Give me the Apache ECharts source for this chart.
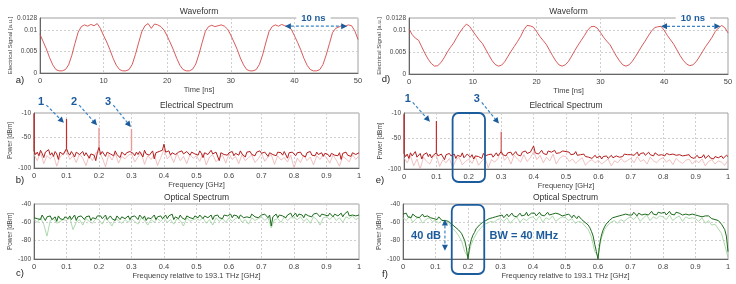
<!DOCTYPE html>
<html>
<head>
<meta charset="utf-8">
<script src="https://cdn.jsdelivr.net/npm/echarts@6/dist/echarts.min.js"></script>
<style>
  html, body { margin: 0; padding: 0; background: #fff; }
  #main { width: 736px; height: 284px; }
</style>
</head>
<body>
<div id="main"></div>
<script>
// time step 0.5 ns, 0..50 ns
var waveA = [
  0.0090, 0.0073, 0.0056, 0.0036, 0.0019, 0.0008, 0.0005, 0.0005, 0.0008, 0.0019,
  0.0041, 0.0069, 0.0095, 0.0108, 0.0112, 0.0109, 0.0113, 0.0110, 0.0115, 0.0104,
  0.0087, 0.0072, 0.0054, 0.0034, 0.0018, 0.0008, 0.0005, 0.0005, 0.0008, 0.0020,
  0.0043, 0.0070, 0.0096, 0.0110, 0.0115, 0.0104, 0.0114, 0.0112, 0.0108, 0.0100,
  0.0086, 0.0070, 0.0053, 0.0034, 0.0018, 0.0008, 0.0005, 0.0005, 0.0009, 0.0021,
  0.0044, 0.0071, 0.0097, 0.0108, 0.0111, 0.0108, 0.0110, 0.0112, 0.0109, 0.0102,
  0.0088, 0.0072, 0.0055, 0.0035, 0.0019, 0.0008, 0.0005, 0.0005, 0.0008, 0.0020,
  0.0042, 0.0070, 0.0096, 0.0108, 0.0112, 0.0109, 0.0113, 0.0110, 0.0108, 0.0102,
  0.0087, 0.0071, 0.0054, 0.0034, 0.0018, 0.0008, 0.0005, 0.0005, 0.0008, 0.0020,
  0.0042, 0.0068, 0.0094, 0.0104, 0.0107, 0.0111, 0.0109, 0.0112, 0.0110, 0.0098,
  0.0078
];
var waveD = [
  0.0103, 0.0090, 0.0082, 0.0077, 0.0062, 0.0047, 0.0034, 0.0024, 0.0018, 0.0019,
  0.0026, 0.0037, 0.0050, 0.0061, 0.0071, 0.0084, 0.0096, 0.0106, 0.0114, 0.0109,
  0.0098, 0.0088, 0.0078, 0.0070, 0.0057, 0.0044, 0.0031, 0.0022, 0.0018, 0.0020,
  0.0028, 0.0040, 0.0052, 0.0063, 0.0074, 0.0086, 0.0101, 0.0111, 0.0110, 0.0107,
  0.0097, 0.0086, 0.0077, 0.0068, 0.0055, 0.0042, 0.0030, 0.0021, 0.0018, 0.0021,
  0.0029, 0.0041, 0.0054, 0.0066, 0.0077, 0.0088, 0.0100, 0.0108, 0.0109, 0.0105,
  0.0095, 0.0084, 0.0075, 0.0067, 0.0054, 0.0041, 0.0030, 0.0021, 0.0018, 0.0021,
  0.0029, 0.0040, 0.0052, 0.0064, 0.0075, 0.0087, 0.0098, 0.0106, 0.0108, 0.0109,
  0.0100, 0.0088, 0.0078, 0.0068, 0.0055, 0.0042, 0.0031, 0.0023, 0.0019, 0.0021,
  0.0028, 0.0039, 0.0051, 0.0063, 0.0073, 0.0084, 0.0097, 0.0105, 0.0111, 0.0106,
  0.0094
];

// frequency step 0.005 GHz (dark traces), 0.01 GHz (light traces)
var elecB = [
  -72,-78,-74,-80,-71,-76,-83,-74,-77,-70,-79,-75,-81,-73,-77,-86,-74,-72,-78,-75,
  -68,-75,-79,-73,-77,-82,-74,-71,-78,-76,-73,-80,-75,-72,-84,-77,-74,-79,-88,-75,
  -66,-78,-73,-76,-81,-74,-71,-77,-75,-80,-72,-78,-76,-83,-74,-71,-79,-75,-77,-73,
  -72,-76,-80,-74,-78,-73,-75,-82,-71,-77,-74,-79,-76,-72,-85,-75,-78,-73,-76,-71,
  -61,-74,-77,-72,-79,-75,-73,-78,-81,-74,-76,-72,-77,-80,-73,-75,-79,-74,-71,-77,
  -74,-79,-72,-76,-83,-75,-73,-78,-75,-71,-77,-80,-74,-76,-88,-75,-73,-78,-76,-79,
  -75,-77,-73,-80,-76,-74,-79,-72,-77,-75,-82,-74,-76,-73,-78,-75,-80,-74,-77,-72,
  -76,-79,-74,-77,-81,-75,-73,-78,-76,-80,-74,-77,-75,-79,-73,-76,-84,-75,-78,-74,
  -77,-80,-75,-78,-74,-79,-76,-82,-75,-77,-73,-79,-76,-80,-74,-78,-77,-75,-81,-76,
  -75,-78,-82,-76,-74,-79,-77,-80,-75,-86,-76,-78,-74,-79,-76,-81,-75,-77,-78,-76,
  -75
];
var elecBLight = [
  -78,-88,-74,-93,-80,-85,-79,-97,-82,-76,
  -72,-86,-80,-91,-77,-84,-96,-79,-88,-75,
  -74,-83,-98,-78,-87,-76,-92,-81,-85,-79,
  -77,-90,-82,-75,-94,-80,-86,-78,-96,-83,
  -70,-85,-79,-91,-76,-88,-81,-93,-78,-84,
  -80,-89,-76,-95,-82,-78,-90,-84,-79,-92,
  -77,-86,-81,-93,-78,-88,-83,-79,-91,-85,
  -76,-89,-82,-78,-94,-80,-87,-83,-90,-79,
  -100,-84,-91,-79,-88,-82,-95,-80,-86,-78,
  -83,-92,-79,-87,-97,-81,-85,-90,-78,-86,
  -80
];
var peakFreqB = [0, 0.1, 0.2, 0.3];
var peakDbB = [-11, -20, -34, -36];

var elecE = [
  -75,-80,-76,-83,-74,-79,-77,-72,-81,-78,-75,-84,-77,-79,-74,-80,-76,-82,-78,-75,
  -74,-79,-82,-76,-78,-85,-77,-80,-75,-79,-81,-76,-83,-78,-77,-80,-74,-82,-79,-76,
  -78,-81,-77,-84,-79,-76,-80,-78,-83,-75,-79,-82,-77,-80,-76,-81,-78,-74,-79,-77,
  -72,-77,-75,-79,-74,-76,-73,-78,-75,-72,-77,-74,-79,-73,-76,-71,-75,-78,-73,-76,
  -63,-74,-71,-76,-73,-70,-75,-72,-77,-71,-74,-73,-76,-70,-75,-72,-74,-77,-71,-73,
  -72,-75,-73,-77,-74,-76,-72,-78,-75,-77,-79,-76,-80,-78,-81,-79,-83,-80,-78,-82,
  -81,-79,-84,-80,-82,-79,-83,-81,-78,-82,-80,-79,-77,-81,-78,-80,-76,-79,-77,-75,
  -77,-74,-78,-76,-73,-79,-75,-77,-74,-78,-76,-73,-77,-75,-79,-74,-76,-78,-75,-77,
  -76,-79,-75,-78,-77,-80,-76,-79,-78,-81,-77,-80,-79,-82,-78,-80,-77,-81,-79,-83,
  -80,-78,-82,-79,-81,-77,-83,-80,-78,-82,-79,-84,-80,-78,-82,-81,-79,-83,-80,-78,
  -80
];
var elecELight = [
  -82,-90,-79,-95,-84,-100,-81,-88,-92,-80,
  -78,-96,-85,-90,-83,-97,-86,-81,-93,-88,
  -84,-91,-80,-94,-87,-82,-98,-85,-89,-83,
  -70,-86,-80,-92,-78,-84,-89,-77,-88,-82,
  -72,-85,-78,-90,-81,-87,-76,-92,-83,-79,
  -80,-88,-84,-91,-86,-82,-94,-88,-85,-90,
  -86,-92,-88,-84,-95,-87,-90,-83,-89,-86,
  -83,-90,-80,-88,-85,-92,-81,-87,-90,-84,
  -82,-89,-85,-93,-83,-88,-91,-86,-84,-92,
  -86,-90,-84,-95,-88,-85,-92,-87,-89,-94,
  -86
];
var peakFreqE = [0, 0.1, 0.3];
var peakDbE = [-12, -23, -40];

var optC = [
  -55,-53,-56,-54,-57,-52,-55,-58,-54,-56,-53,-57,-55,-54,-59,-53,-56,-55,-57,-54,
  -54,-56,-53,-57,-55,-52,-58,-54,-56,-53,-55,-57,-54,-56,-53,-58,-55,-54,-56,-53,
  -55,-53,-56,-54,-52,-57,-55,-53,-56,-54,-58,-53,-55,-57,-54,-52,-56,-55,-53,-57,
  -54,-56,-53,-55,-57,-52,-54,-56,-53,-58,-55,-53,-56,-54,-52,-57,-54,-55,-53,-56,
  -54,-52,-56,-53,-55,-51,-57,-54,-53,-56,-52,-55,-54,-57,-53,-52,-55,-54,-56,-53,
  -53,-55,-52,-54,-56,-53,-51,-55,-54,-52,-57,-53,-54,-52,-55,-53,-56,-52,-54,-53,
  -53,-51,-55,-52,-54,-53,-56,-52,-51,-55,-53,-54,-52,-55,-51,-53,-54,-52,-55,-53,
  -52,-54,-51,-53,-55,-52,-64,-54,-53,-51,-55,-52,-54,-53,-51,-55,-52,-53,-50,-54,
  -52,-50,-54,-51,-53,-52,-55,-51,-50,-53,-52,-54,-51,-53,-50,-52,-54,-51,-53,-52,
  -51,-53,-50,-52,-54,-51,-49,-53,-52,-50,-54,-51,-52,-48,-53,-51,-52,-50,-53,-51,
  -52
];
var optCLight = [
  -57,-60,-55,-62,-75,-58,-56,-61,-59,-57,
  -58,-55,-68,-60,-57,-63,-56,-59,-61,-56,
  -57,-62,-55,-59,-64,-56,-58,-61,-57,-60,
  -56,-59,-62,-55,-58,-63,-57,-60,-56,-59,
  -55,-60,-57,-62,-56,-58,-64,-55,-59,-57,
  -56,-58,-55,-61,-57,-63,-55,-59,-56,-60,
  -55,-59,-56,-54,-60,-57,-62,-55,-58,-56,
  -54,-58,-55,-66,-57,-56,-60,-54,-58,-55,
  -55,-57,-54,-59,-56,-61,-54,-57,-63,-55,
  -54,-57,-53,-58,-55,-60,-54,-56,-53,-57,
  -55
];

var optF = [
  -51,-53,-50,-54,-52,-55,-51,-53,-54,-52,-55,-53,-51,-54,-56,-53,-52,-55,-54,-56,
  -55,-57,-54,-56,-58,-56,-58,-60,-59,-61,-62,-63,-65,-66,-68,-70,-72,-76,-80,-88,
  -100,-86,-79,-74,-71,-67,-66,-63,-62,-60,-59,-58,-57,-56,-57,-55,-56,-54,-55,-53,
  -54,-52,-55,-53,-51,-54,-52,-50,-53,-51,-54,-52,-50,-53,-51,-52,-49,-53,-51,-50,
  -52,-50,-53,-51,-49,-52,-50,-53,-51,-49,-52,-50,-51,-53,-50,-52,-51,-49,-53,-51,
  -52,-54,-51,-53,-55,-52,-54,-56,-53,-55,-57,-58,-60,-61,-63,-66,-70,-75,-84,-92,
  -100,-84,-75,-69,-65,-62,-60,-58,-57,-55,-56,-54,-55,-53,-54,-52,-53,-51,-53,-52,
  -50,-52,-49,-51,-53,-50,-48,-52,-50,-51,-49,-52,-50,-48,-51,-50,-52,-49,-51,-50,
  -51,-49,-52,-50,-48,-51,-50,-52,-49,-51,-50,-48,-52,-50,-51,-49,-52,-50,-51,-53,
  -52,-50,-53,-51,-54,-52,-53,-55,-53,-54,-56,-55,-57,-56,-58,-60,-62,-64,-68,-75,
  -92
];
var optFLight = [
  -55,-58,-53,-60,-56,-54,-61,-57,-55,-59,
  -58,-61,-57,-63,-60,-66,-69,-74,-80,-92,
  -98,-84,-76,-70,-66,-62,-61,-59,-60,-57,
  -56,-59,-55,-61,-57,-54,-60,-56,-58,-55,
  -54,-58,-53,-60,-55,-57,-53,-59,-56,-54,
  -55,-58,-56,-61,-59,-60,-64,-68,-76,-92,
  -97,-78,-68,-63,-60,-58,-61,-57,-59,-56,
  -54,-57,-53,-59,-55,-52,-58,-54,-56,-53,
  -54,-57,-52,-58,-55,-53,-59,-54,-56,-55,
  -56,-59,-55,-61,-58,-63,-62,-67,-72,-85,
  -98
];

var blue = '#1c5c9c';
var blueLine = '#3a85c8';
var font = '"Liberation Sans", Arial, sans-serif';

function pairs(vals, step) {
  return vals.map(function(v, i) { return [+(i * step).toFixed(4), v]; });
}
// vertical spikes from the noise floor; strong (> -30 dBm) or weak ones
function peakLines(freqs, dbs, floor, strong) {
  var out = [];
  freqs.forEach(function(f, i) {
    if ((dbs[i] > -30) !== strong) return;
    var base = floor[Math.round(f / 0.005)];
    out.push([f, base], [f, dbs[i]], '-');
  });
  return out;
}

var chart = echarts.init(document.getElementById('main'), null, { renderer: 'canvas' });

var grids = [
  { left: 40, right: 378, top: 18, height: 55 },   // a
  { left: 409, right: 8, top: 18, height: 56 },    // d
  { left: 34, right: 377, top: 113, height: 55 },  // b
  { left: 404, right: 8, top: 113, height: 56 },   // e
  { left: 34, right: 377, top: 204, height: 55 },  // c
  { left: 403, right: 8, top: 204, height: 55 }    // f
];
grids.forEach(function(g) { g.show = true; g.borderColor = '#a0a0a0'; g.borderWidth = 1; });

var gridLine = { show: true, lineStyle: { color: '#cfcfcf', type: [2, 2], width: 1 } };

function xAx(i, max, interval, name, gap) {
  return {
    type: 'value', gridIndex: i, min: 0, max: max, interval: interval,
    name: name, nameLocation: 'middle', nameGap: gap,
    nameTextStyle: { fontSize: 7.5, color: '#444', fontFamily: 'Liberation Sans' },
    axisLine: { onZero: false, lineStyle: { color: '#666' } },
    axisTick: { show: false },
    axisLabel: { fontSize: 7.5, color: '#444', margin: 4, fontFamily: 'Liberation Sans' },
    splitLine: gridLine
  };
}
function yAx(i, min, max, interval, name, gap, fs) {
  return {
    type: 'value', gridIndex: i, min: min, max: max, interval: interval,
    name: name, nameLocation: 'middle', nameGap: gap, nameRotate: 90,
    nameTextStyle: { fontSize: fs, color: '#444', fontFamily: 'Liberation Sans' },
    axisLine: { onZero: false, lineStyle: { color: '#666' } },
    axisTick: { show: false },
    axisLabel: { fontSize: 6.5, color: '#444', margin: 3, fontFamily: 'Liberation Sans' },
    splitLine: gridLine
  };
}

function line(i, data, color, width, z) {
  return {
    type: 'line', xAxisIndex: i, yAxisIndex: i, data: data,
    showSymbol: false, symbol: 'none', z: z || 2, silent: true,
    lineStyle: { color: color, width: width }
  };
}

var redDark = '#b31c1c', redLight = '#eeb0b0', greenDark = '#1c6a1c', greenLight = '#9ccf9c';

chart.setOption({
  animation: false,
  grid: grids,
  xAxis: [
    xAx(0, 50, 10, 'Time [ns]', 11),
    xAx(1, 50, 10, 'Time [ns]', 10),
    xAx(2, 1, 0.1, 'Frequency [GHz]', 11),
    xAx(3, 1, 0.1, 'Frequency [GHz]', 11),
    xAx(4, 1, 0.1, 'Frequency relative to 193.1 THz [GHz]', 9),
    xAx(5, 1, 0.1, 'Frequency relative to 193.1 THz [GHz]', 10)
  ],
  yAxis: [
    yAx(0, 0, 0.0128, 0.005, 'Electrical Signal [a.u.]', 27, 6),
    yAx(1, 0, 0.0128, 0.005, 'Electrical Signal [a.u.]', 26, 6),
    yAx(2, -100, -10, 50, 'Power [dBm]', 18, 6.5),
    yAx(3, -100, -10, 50, 'Power [dBm]', 18, 6.5),
    yAx(4, -100, -40, 20, 'Power [dBm]', 20, 6.5),
    yAx(5, -100, -40, 20, 'Power [dBm]', 19, 6.5)
  ],
  series: [
    line(0, pairs(waveA, 0.5), '#d44848', 0.9),
    line(1, pairs(waveD, 0.5), '#d44848', 0.9),
    line(2, pairs(elecBLight, 0.01), redLight, 0.8),
    line(2, pairs(elecB, 0.005), redDark, 1.0, 3),
    line(2, peakLines(peakFreqB, peakDbB, elecB, true), '#c92a2a', 1.2, 4),
    line(2, peakLines(peakFreqB, peakDbB, elecB, false), '#e79a9a', 1.4, 4),
    line(3, pairs(elecELight, 0.01), redLight, 0.8),
    line(3, pairs(elecE, 0.005), redDark, 1.0, 3),
    line(3, peakLines(peakFreqE, peakDbE, elecE, true), '#c92a2a', 1.2, 4),
    line(3, peakLines(peakFreqE, peakDbE, elecE, false), '#d25555', 1.2, 4),
    line(4, pairs(optCLight, 0.01), greenLight, 0.8),
    line(4, pairs(optC, 0.005), greenDark, 1.0, 3),
    line(5, pairs(optFLight, 0.01), greenLight, 0.8),
    line(5, pairs(optF, 0.005), greenDark, 1.0, 3)
  ]
});

// ---- annotations ----
function px(g, pt) { return chart.convertToPixel({ gridIndex: g }, pt); }

function arrow(p1, p2, both) {
  var dx = p2[0] - p1[0], dy = p2[1] - p1[1];
  var len = Math.sqrt(dx * dx + dy * dy), ux = dx / len, uy = dy / len;
  var L = 6, W = 3;
  var a = both ? [p1[0] + ux * L, p1[1] + uy * L] : p1;
  var b = [p2[0] - ux * L, p2[1] - uy * L];
  function head(tip, sx, sy) {
    return {
      type: 'polygon', silent: true, z: 100,
      shape: { points: [tip, [tip[0] - sx * L - sy * W, tip[1] - sy * L + sx * W], [tip[0] - sx * L + sy * W, tip[1] - sy * L - sx * W]] },
      style: { fill: blue }
    };
  }
  var els = [{
    type: 'line', silent: true, z: 100,
    shape: { x1: a[0], y1: a[1], x2: b[0], y2: b[1] },
    style: { stroke: blueLine, lineWidth: 1.2, lineDash: [3, 2] }
  }, head(p2, ux, uy)];
  if (both) els.push(head(p1, -ux, -uy));
  return els;
}
function text(p, s, f, color, bg) {
  var st = { text: s, x: p[0], y: p[1], font: f, fill: color, align: 'center', verticalAlign: 'middle' };
  if (bg) { st.backgroundColor = '#fff'; st.padding = [1, 5]; }
  return { type: 'text', silent: true, z: 101, style: st };
}
function box(g, x0, x1, yTop, extraBottom) {
  var p0 = px(g, [x0, yTop]), p1 = px(g, [x1, yTop]);
  var bottom = px(g, [x0, -100])[1] + extraBottom;
  return {
    type: 'rect', silent: true, z: 100,
    shape: { x: p0[0], y: p0[1], width: p1[0] - p0[0], height: bottom - p0[1], r: 6 },
    style: { fill: 'none', stroke: blue, lineWidth: 1.8 }
  };
}

var bold = 'bold 11px ' + font;
var els = [];

// titles
var titleFont = '8.5px ' + font;
[[0, 'Waveform', 12], [1, 'Waveform', 12], [2, 'Electrical Spectrum', 106], [3, 'Electrical Spectrum', 106],
 [4, 'Optical Spectrum', 198], [5, 'Optical Spectrum', 198]].forEach(function(t) {
  var mid = t[0] < 2 ? 25 : 0.5;
  els.push(text([px(t[0], [mid, 0])[0], t[2]], t[1], titleFont, '#333'));
});

// panel letters
var letterFont = '9.5px ' + font;
[['a)', 20, 80], ['d)', 386, 79], ['b)', 20, 180], ['e)', 380, 180], ['c)', 20, 273], ['f)', 385, 274]].forEach(function(l) {
  els.push(text([l[1], l[2]], l[0], letterFont, '#222'));
});

// 10 ns period markers
els = els.concat(arrow(px(0, [38.5, 0.0109]), px(0, [48.3, 0.0109]), true));
els.push(text(px(0, [43, 0.0128]), '10 ns', 'bold 9.5px ' + font, blue, true));
els = els.concat(arrow(px(1, [39.5, 0.0109]), px(1, [48.8, 0.0109]), true));
els.push(text(px(1, [44.5, 0.0128]), '10 ns', 'bold 9.5px ' + font, blue, true));

// harmonic markers, panel b
[['1', [0.022, 8], [0.038, 3], [0.092, -26]],
 ['2', [0.123, 8], [0.139, 3], [0.194, -30]],
 ['3', [0.228, 8], [0.244, 3], [0.298, -33]]].forEach(function(m) {
  els.push(text(px(2, m[1]), m[0], bold, blue));
  els = els.concat(arrow(px(2, m[2]), px(2, m[3])));
});
// panel e
[['1', [0.012, 12], [0.027, 7], [0.08, -24]],
 ['3', [0.225, 12], [0.24, 7], [0.293, -27]]].forEach(function(m) {
  els.push(text(px(3, m[1]), m[0], bold, blue));
  els = els.concat(arrow(px(3, m[2]), px(3, m[3])));
});
els.push(box(3, 0.15, 0.25, -10, 13));

// panel f
els.push(box(5, 0.15, 0.25, -41, 15));
els = els.concat(arrow(px(5, [0.129, -57]), px(5, [0.129, -91]), true));
els.push(text(px(5, [0.071, -75]), '40 dB', bold, blue));
els.push(text(px(5, [0.372, -75]), 'BW = 40 MHz', bold, blue));

chart.setOption({ graphic: els });
</script>
</body>
</html>
